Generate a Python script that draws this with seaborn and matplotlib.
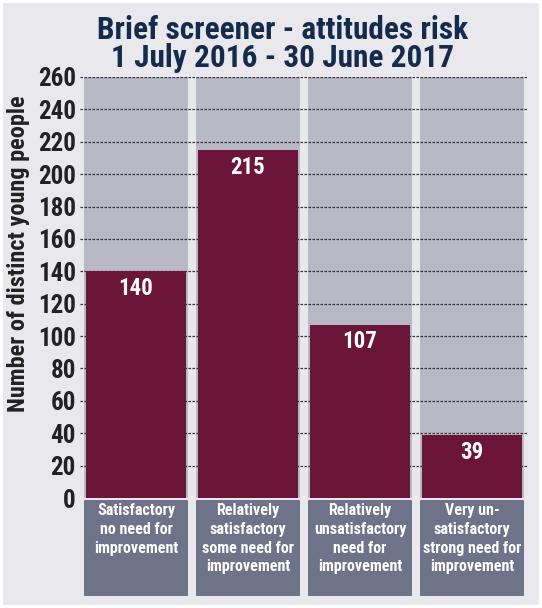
import pandas as pd
import numpy as np
import matplotlib.pyplot as plt
import matplotlib.transforms as mtransforms
from matplotlib.patches import Rectangle
import seaborn as sns

categories = ['Satisfactory\nno need for\nimprovement',
              'Relatively\nsatisfactory\nsome need for\nimprovement',
              'Relatively\nunsatisfactory\nneed for\nimprovement',
              'Very un-\nsatisfactory\nstrong need for\nimprovement']
counts = [140, 215, 107, 39]
y_max = 260
y_ticks = list(range(0, 261, 20))

df = pd.DataFrame({'category': categories, 'count': counts, 'full': [y_max] * len(categories)})

sns.set_style('white')
plt.rcParams['font.family'] = ['Roboto Condensed', 'DejaVu Sans']

bg = '#E8E8ED'
col_grey = '#B8B8C6'
maroon = '#6B1539'
box_col = '#6E7389'
navy = '#152B4C'

fig = plt.figure(figsize=(5.42, 6.08), dpi=100, facecolor='white')
fig.patches.append(Rectangle((3 / 542, 3 / 608), 536 / 542, 602 / 608, transform=fig.transFigure,
                             facecolor=bg, edgecolor='none', zorder=-10))

ax = fig.add_axes([80 / 542, (608 - 498) / 608, (528 - 80) / 542, (498 - 77) / 608])
ax.set_facecolor('none')

sns.barplot(data=df, x='category', y='full', color=col_grey, width=0.935,
            saturation=1, linewidth=0, edgecolor='none', ax=ax, zorder=1)
sns.barplot(data=df, x='category', y='count', color=maroon, width=0.89,
            saturation=1, linewidth=0, edgecolor='none', ax=ax, zorder=3)

# dotted gridlines over the grey columns, behind the maroon bars
for t in y_ticks[1:]:
    ax.axhline(t, color='#333333', linestyle=(0, (2, 1.2)), linewidth=0.9, zorder=2)

ax.set_ylim(0, y_max)
ax.set_xlim(-0.5, len(categories) - 0.5)
ax.set_yticks(y_ticks)
ax.set_yticklabels([str(t) for t in y_ticks], fontsize=18, fontweight='bold', color='#222222')
ax.tick_params(axis='y', length=0, pad=3)
ax.set_xticks([])
ax.set_xlabel('')
ax.set_ylabel('Number of distinct young people', fontsize=17.5, fontweight='bold',
              color='#222222')
ax.yaxis.set_label_coords(-0.112, 0.58)
for s in ax.spines.values():
    s.set_visible(False)

for i, v in enumerate(counts):
    ax.text(i, v - 3.5, str(v), ha='center', va='top', color='white',
            fontsize=16.5, fontweight='bold', zorder=5)

trans = mtransforms.blended_transform_factory(ax.transData, ax.transAxes)
for i, lab in enumerate(categories):
    ax.add_patch(Rectangle((i - 0.4675, -0.233), 0.935, 0.229, transform=trans,
                           facecolor=box_col, edgecolor='none', clip_on=False, zorder=1))
    ax.text(i, -0.013, lab, transform=trans, ha='center', va='top', color='white',
            fontsize=11.5, fontweight='bold', linespacing=1.3, clip_on=False, zorder=2)

fig.text(0.522, 0.976, 'Brief screener - attitudes risk\n1 July 2016 - 30 June 2017',
         ha='center', va='top', fontsize=22.5, fontweight='bold', color=navy, linespacing=0.92)

fig.savefig('out.png', dpi=100, facecolor='white')
